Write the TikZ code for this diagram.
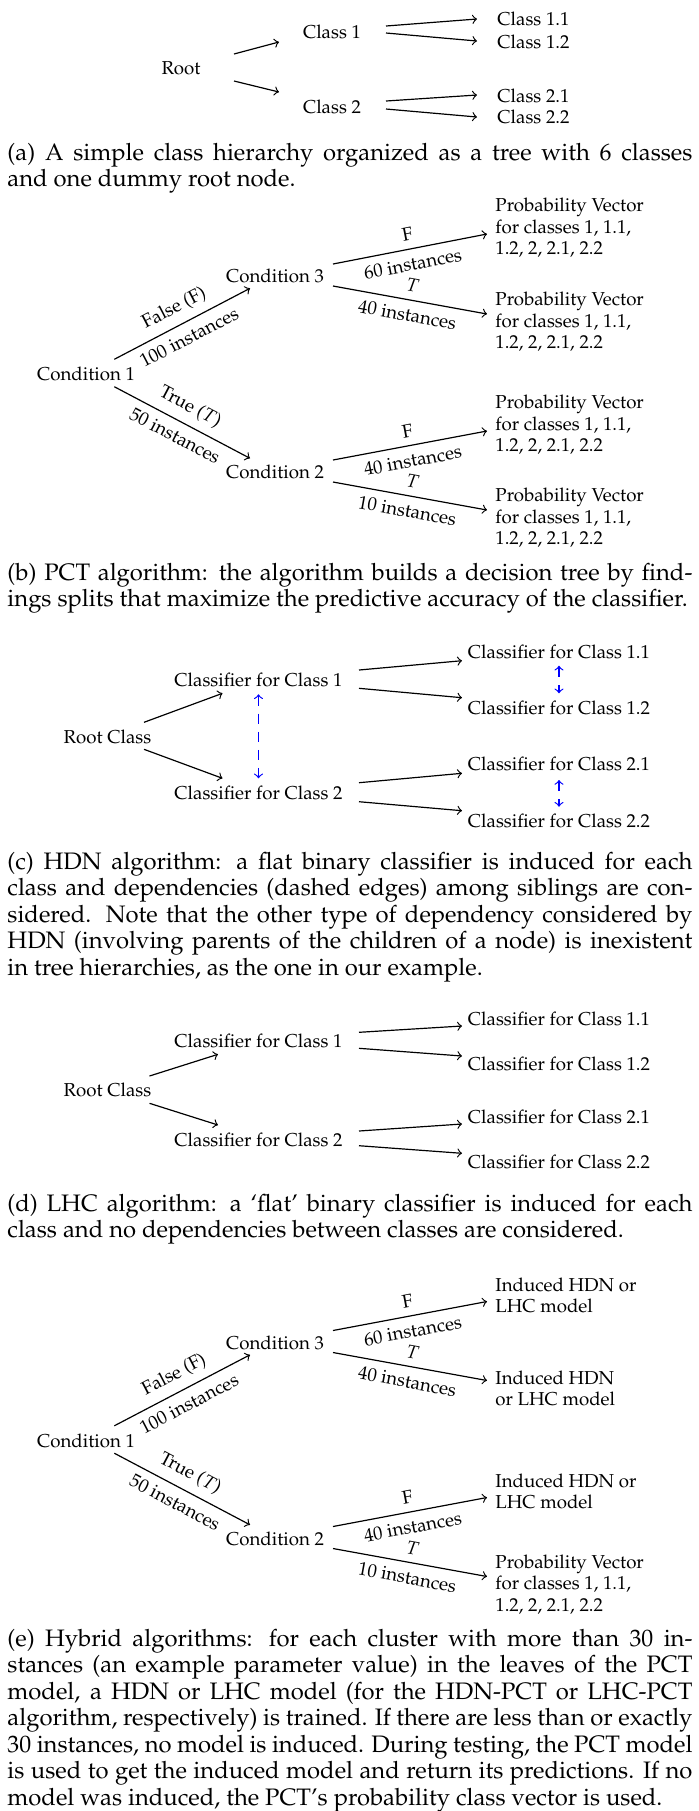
\documentclass[tikz,border=0pt]{standalone}
\usepackage[T1]{fontenc}
\usepackage{mathpazo}
\usetikzlibrary{calc}
\newlength{\capw}
\setlength{\capw}{287.7pt}
\newcommand{\dfont}{\fontsize{7.85}{9.1}\selectfont}
\newcommand{\cfont}{\fontsize{10}{11.17}\selectfont}
\newcommand{\jline}[1]{\makebox[\capw][s]{#1}}
\begin{document}
\begin{tikzpicture}[x=0.42pt, y=-0.42pt,
  txt/.style={font=\dfont, inner sep=0pt},
  leaf/.style={txt, anchor=west},
  multi/.style={txt, anchor=west, align=left},
  arr/.style={->, line width=0.5pt},
  dep/.style={<->, blue, line width=0.5pt, dash pattern=on 4.2pt off 3.4pt},
  elab/.style={font=\dfont, sloped, midway},
  capnode/.style={font=\cfont, anchor=base west, inner sep=0pt}]
\useasboundingbox (0,0) rectangle (699,1811);
\fill[white] (0,0) rectangle (699,1811);

% ---------- (a) class hierarchy ----------
\node[txt] (aR) at (181,68) {Root};
\node[txt] (aC1) at (332,32) {Class 1};
\node[txt] (aC2) at (332,107) {Class 2};
\node[leaf] (aC11) at (497,19) {Class 1.1};
\node[leaf] (aC12) at (497,42) {Class 1.2};
\node[leaf] (aC21) at (497,96) {Class 2.1};
\node[leaf] (aC22) at (497,117) {Class 2.2};
\draw[arr] ([shift={(53,-14)}]aR.center) -- ([shift={(-53,10)}]aC1.center);
\draw[arr] ([shift={(53,13)}]aR.center) -- ([shift={(-53,-15)}]aC2.center);
\draw[arr] ([shift={(54,-6)}]aC1.center) -- ([shift={(-20,0)}]aC11.west);
\draw[arr] ([shift={(54,1)}]aC1.center) -- ([shift={(-20,-1)}]aC12.west);
\draw[arr] ([shift={(54,-6)}]aC2.center) -- ([shift={(-20,-1)}]aC21.west);
\draw[arr] ([shift={(54,2)}]aC2.center) -- ([shift={(-20,0)}]aC22.west);
\node[capnode] (capA) at (7,160) {\parbox[t]{\capw}{%
\jline{(a) A simple class hierarchy organized as a tree with 6 classes}\\
and one dummy root node.}};

% ---------- (b) PCT ----------
\node[txt] (bC1) at (86,374) {Condition 1};
\node[txt] (bC3) at (275,276) {Condition 3};
\node[txt] (bC2) at (275,472) {Condition 2};
\node[multi] (bP1) at (495,228) {Probability Vector\\for classes 1, 1.1,\\1.2, 2, 2.1, 2.2};
\node[multi] (bP2) at (495,322) {Probability Vector\\for classes 1, 1.1,\\1.2, 2, 2.1, 2.2};
\node[multi] (bP3) at (495,425) {Probability Vector\\for classes 1, 1.1,\\1.2, 2, 2.1, 2.2};
\node[multi] (bP4) at (495,518) {Probability Vector\\for classes 1, 1.1,\\1.2, 2, 2.1, 2.2};
\draw[arr] ([shift={(28.3,-14.7)}]bC1.center) -- node[elab, above] {False (F)} node[elab, below] {100 instances} ([shift={(-25,12.3)}]bC3.center);
\draw[arr] ([shift={(28.3,12.7)}]bC1.center) -- node[elab, above] {True ($T$)} node[elab, below] {50 instances} ([shift={(-25,-13.7)}]bC2.center);
\draw[arr] ([shift={(58,-12)}]bC3.center) -- node[elab, above] {F} node[elab, below] {60 instances} ([shift={(-8,6)}]bP1.west);
\draw[arr] ([shift={(58,10)}]bC3.center) -- node[elab, above] {$T$} node[elab, below] {40 instances} ([shift={(-8,-8)}]bP2.west);
\draw[arr] ([shift={(58,-12)}]bC2.center) -- node[elab, above] {F} node[elab, below] {40 instances} ([shift={(-8,6)}]bP3.west);
\draw[arr] ([shift={(58,10)}]bC2.center) -- node[elab, above] {$T$} node[elab, below] {10 instances} ([shift={(-8,-8)}]bP4.west);
\node[capnode] (capB) at (7,580) {\parbox[t]{\capw}{%
\jline{(b) PCT algorithm: the algorithm builds a decision tree by find-}\\
ings splits that maximize the predictive accuracy of the classifier.}};

% ---------- (c) HDN ----------
\node[txt] (cR) at (107.5,736.7) {Root Class};
\node[txt] (cK1) at (258.5,680) {Classifier for Class 1};
\node[txt] (cK2) at (258.5,792.7) {Classifier for Class 2};
\node[leaf] (cK11) at (467.5,651.7) {Classifier for Class 1.1};
\node[leaf] (cK12) at (467.5,707.7) {Classifier for Class 1.2};
\node[leaf] (cK21) at (467.5,764.3) {Classifier for Class 2.1};
\node[leaf] (cK22) at (467.5,821) {Classifier for Class 2.2};
\draw[arr] ([shift={(36.5,-14.4)}]cR.center) -- ([shift={(-36,13.3)}]cK1.center);
\draw[arr] ([shift={(36.5,12.6)}]cR.center) -- ([shift={(-36,-14.4)}]cK2.center);
\draw[arr] ([shift={(100.5,-10)}]cK1.center) -- ([shift={(-5.5,9)}]cK11.west);
\draw[arr] ([shift={(100.5,8.3)}]cK1.center) -- ([shift={(-5.5,-10)}]cK12.west);
\draw[arr] ([shift={(100.5,-10)}]cK2.center) -- ([shift={(-5.5,9)}]cK21.west);
\draw[arr] ([shift={(100.5,9)}]cK2.center) -- ([shift={(-5.5,-10.3)}]cK22.west);
\draw[dep] ([shift={(0,14.3)}]cK1.center) -- ([shift={(0,-14.4)}]cK2.center);
\draw[dep] ([shift={(0,14)}]cK11.center) -- ([shift={(0,-14.4)}]cK12.center);
\draw[dep] ([shift={(0,15.7)}]cK21.center) -- ([shift={(0,-14.3)}]cK22.center);
\node[capnode] (capC) at (7,869) {\parbox[t]{\capw}{%
\jline{(c) HDN algorithm: a flat binary classifier is induced for each}\\
\jline{class and dependencies (dashed edges) among siblings are con-}\\
\jline{sidered. Note that the other type of dependency considered by}\\
\jline{HDN (involving parents of the children of a node) is inexistent}\\
in tree hierarchies, as the one in our example.}};

% ---------- (d) LHC ----------
\node[txt] (dR) at (107.5,1090) {Root Class};
\node[txt] (dK1) at (258.5,1040.7) {Classifier for Class 1};
\node[txt] (dK2) at (258.5,1140) {Classifier for Class 2};
\node[leaf] (dK11) at (467.5,1019.3) {Classifier for Class 1.1};
\node[leaf] (dK12) at (467.5,1064.3) {Classifier for Class 1.2};
\node[leaf] (dK21) at (467.5,1116.7) {Classifier for Class 2.1};
\node[leaf] (dK22) at (467.5,1162.3) {Classifier for Class 2.2};
\draw[arr] ([shift={(42,-14)}]dR.center) -- ([shift={(-40.5,13.6)}]dK1.center);
\draw[arr] ([shift={(42,13.3)}]dR.center) -- ([shift={(-40.5,-15)}]dK2.center);
\draw[arr] ([shift={(100.5,-8.4)}]dK1.center) -- ([shift={(-5.5,6.7)}]dK11.west);
\draw[arr] ([shift={(100.5,7.6)}]dK1.center) -- ([shift={(-5.5,-8.3)}]dK12.west);
\draw[arr] ([shift={(100.5,-9)}]dK2.center) -- ([shift={(-5.5,7.3)}]dK21.west);
\draw[arr] ([shift={(100.5,5.7)}]dK2.center) -- ([shift={(-5.5,-9)}]dK22.west);
\node[capnode] (capD) at (7,1211) {\parbox[t]{\capw}{%
\jline{(d) LHC algorithm: a `flat' binary classifier is induced for each}\\
class and no dependencies between classes are considered.}};

% ---------- (e) hybrid ----------
\node[txt] (eC1) at (86,1440.5) {Condition 1};
\node[txt] (eC3) at (275,1342.5) {Condition 3};
\node[txt] (eC2) at (275,1538.5) {Condition 2};
\node[multi] (eP1) at (495,1295.5) {Induced HDN or\\LHC model};
\node[multi] (eP2) at (495,1388.5) {Induced HDN\\or LHC model};
\node[multi] (eP3) at (495,1491.5) {Induced HDN or\\LHC model};
\node[multi] (eP4) at (495,1584.5) {Probability Vector\\for classes 1, 1.1,\\1.2, 2, 2.1, 2.2};
\draw[arr] ([shift={(28.3,-14.7)}]eC1.center) -- node[elab, above] {False (F)} node[elab, below] {100 instances} ([shift={(-25,12.3)}]eC3.center);
\draw[arr] ([shift={(28.3,12.7)}]eC1.center) -- node[elab, above] {True ($T$)} node[elab, below] {50 instances} ([shift={(-25,-13.7)}]eC2.center);
\draw[arr] ([shift={(58,-12)}]eC3.center) -- node[elab, above] {F} node[elab, below] {60 instances} ([shift={(-8,6)}]eP1.west);
\draw[arr] ([shift={(58,10)}]eC3.center) -- node[elab, above] {$T$} node[elab, below] {40 instances} ([shift={(-8,-8)}]eP2.west);
\draw[arr] ([shift={(58,-12)}]eC2.center) -- node[elab, above] {F} node[elab, below] {40 instances} ([shift={(-8,6)}]eP3.west);
\draw[arr] ([shift={(58,10)}]eC2.center) -- node[elab, above] {$T$} node[elab, below] {10 instances} ([shift={(-8,-8)}]eP4.west);
\node[capnode] (capE) at (7,1646) {\parbox[t]{\capw}{%
\jline{(e) Hybrid algorithms: for each cluster with more than 30 in-}\\
\jline{stances (an example parameter value) in the leaves of the PCT}\\
\jline{model, a HDN or LHC model (for the HDN-PCT or LHC-PCT}\\
\jline{algorithm, respectively) is trained. If there are less than or exactly}\\
\jline{30 instances, no model is induced. During testing, the PCT model}\\
\jline{is used to get the induced model and return its predictions. If no}\\
model was induced, the PCT's probability class vector is used.}};
\end{tikzpicture}
\end{document}
